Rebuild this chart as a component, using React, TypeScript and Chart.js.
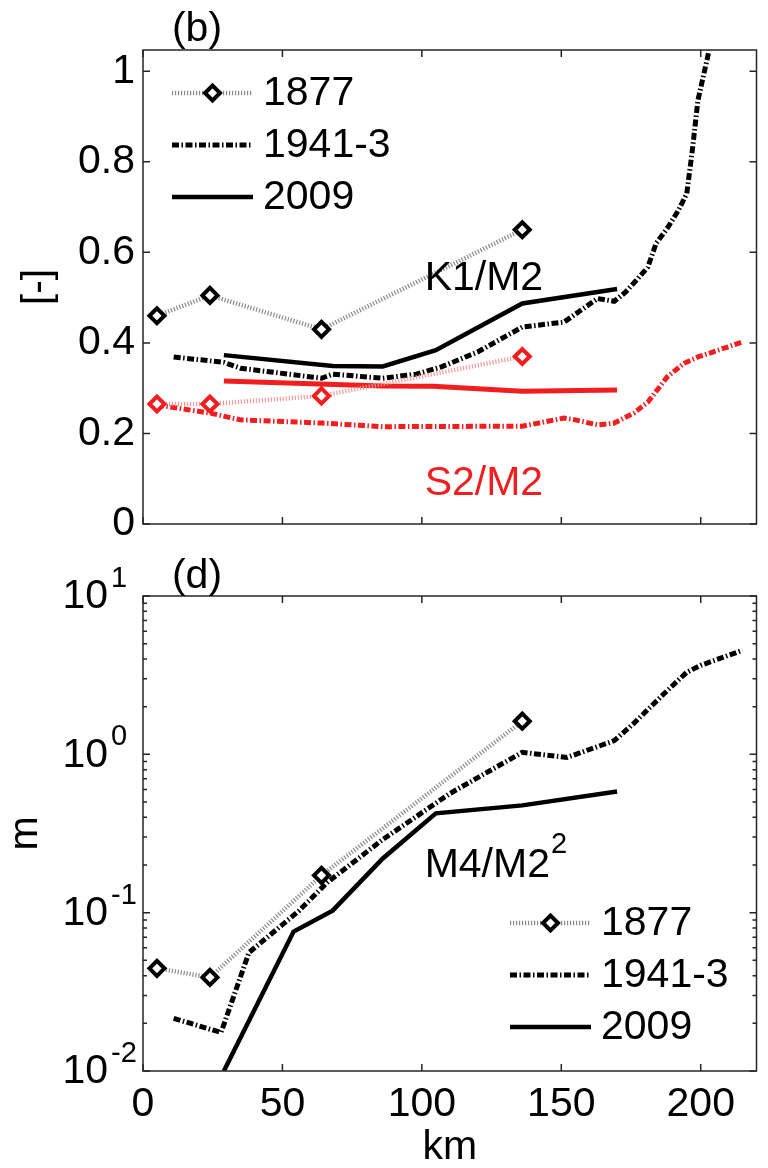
import { useEffect, useRef } from 'react';
import { Chart, registerables } from 'chart.js';

Chart.register(...registerables);

const FONT = '"Liberation Sans", Arial, Helvetica, sans-serif';
const FS = 41;
const BLACK = '#000000';
const RED = '#f01e1e';
const GREY_DOT = '#8a8a8a';
const RED_DOT = '#f49a9a';

// ---------------- shared x axis ----------------
const xTicks = [0, 50, 100, 150, 200];
const xLabels = ['0', '50', '100', '150', '200'];
const xTitle = 'km';

// ---------------- panel (b) ----------------
const panelB = '(b)';
const yTitleB = '[-]';
const yTicksB = [0, 0.2, 0.4, 0.6, 0.8, 1];
const yLabelsB = ['0', '0.2', '0.4', '0.6', '0.8', '1'];

// 1877 stations (diamonds)
const km1877 = [5, 24, 64, 136];
const k1m2_1877 = [0.46, 0.505, 0.43, 0.65];
const s2m2_1877 = [0.265, 0.265, 0.283, 0.37];

// 1941-3 K1/M2
const kmK1_1941 = [11, 29, 35, 64, 68, 86, 98, 107, 120, 136, 151, 157, 163, 169, 173, 177, 181, 184, 188, 192, 195, 197, 199, 203];
const k1m2_1941 = [0.369, 0.357, 0.344, 0.322, 0.331, 0.322, 0.331, 0.347, 0.38, 0.435, 0.446, 0.472, 0.498, 0.492, 0.512, 0.539, 0.567, 0.62, 0.653, 0.693, 0.73, 0.826, 0.936, 1.046];

// 1941-3 S2/M2
const kmS2_1941 = [5, 24, 35, 64, 86, 136, 151, 155, 163, 169, 176, 181, 188, 194, 199, 215];
const s2m2_1941 = [0.263, 0.245, 0.23, 0.223, 0.215, 0.216, 0.234, 0.23, 0.219, 0.223, 0.245, 0.269, 0.325, 0.355, 0.369, 0.402];

// 2009 K1/M2
const kmK1_2009 = [29, 68, 86, 105, 136, 170];
const k1m2_2009 = [0.373, 0.349, 0.348, 0.384, 0.487, 0.519];

// 2009 S2/M2
const kmS2_2009 = [29, 86, 104, 136, 170];
const s2m2_2009 = [0.316, 0.305, 0.304, 0.293, 0.296];

const labelK1 = 'K1/M2';
const labelS2 = 'S2/M2';

// ---------------- panel (d) ----------------
const panelD = '(d)';
const yTitleD = 'm';
const yTicksD = [0.01, 0.1, 1, 10];
const yExpD = ['-2', '-1', '0', '1'];
const yMinorMult = [2, 3, 4, 5, 6, 7, 8, 9];

const m4m2_1877 = [0.0445, 0.039, 0.172, 1.62];

const kmM4_1941 = [11, 28, 38, 56, 66, 86, 110, 136, 152, 169, 176, 187, 195, 200, 215];
const m4m2_1941 = [0.0215, 0.0175, 0.056, 0.103, 0.155, 0.29, 0.565, 1.03, 0.955, 1.22, 1.57, 2.43, 3.3, 3.65, 4.54];

const kmM4_2009 = [29, 54, 68, 86, 105, 136, 170];
const m4m2_2009 = [0.01, 0.076, 0.103, 0.22, 0.424, 0.476, 0.583];

const labelM4 = 'M4/M2';
const labelM4Exp = '2';

const legendLabels = ['1877', '1941-3', '2009'];

// ---------------- helpers ----------------
const pts = (xs: number[], ys: number[]) => xs.map((x, i) => ({ x, y: ys[i] }));

const style1877 = (line: string, mark: string) => ({
  borderColor: line,
  borderWidth: 4.5,
  borderDash: [1.2, 1.8],
  pointStyle: 'rectRot',
  pointRadius: 7.5,
  pointHoverRadius: 7.5,
  pointBorderWidth: 4,
  pointBorderColor: mark,
  pointBackgroundColor: '#ffffff',
});
const style1941 = (c: string) => ({
  borderColor: c,
  borderWidth: 5,
  borderDash: [7, 2.5, 1.5, 2.5],
  pointRadius: 0,
});
const style2009 = (c: string) => ({
  borderColor: c,
  borderWidth: 4.5,
  pointRadius: 0,
});

function drawDiamond(ctx: CanvasRenderingContext2D, x: number, y: number, r: number, color: string, w: number) {
  ctx.save();
  ctx.setLineDash([]);
  ctx.beginPath();
  ctx.moveTo(x - r, y);
  ctx.lineTo(x, y - r);
  ctx.lineTo(x + r, y);
  ctx.lineTo(x, y + r);
  ctx.closePath();
  ctx.fillStyle = '#ffffff';
  ctx.fill();
  ctx.lineWidth = w;
  ctx.strokeStyle = color;
  ctx.stroke();
  ctx.restore();
}

type Ann = { text: string; x: number; y: number; color: string; sup?: string };

function makePlugin(opts: {
  yMajor: number[];
  yMinor: number[];
  logLabels: boolean;
  panel: string;
  panelX: number;
  panelY: number;
  legend: { x0: number; x1: number; tx: number; rows: number[]; ds: number[] };
  anns: Ann[];
}) {
  return {
    id: 'matlabDecor',
    afterDatasetsDraw(chart: any) {
      const { ctx, chartArea: a, scales } = chart;
      const xs = scales.x;
      const ys = scales.y;
      ctx.save();
      // annotations in data coordinates
      for (const an of opts.anns) {
        const px = xs.getPixelForValue(an.x);
        const py = ys.getPixelForValue(an.y);
        ctx.font = `${FS}px ${FONT}`;
        ctx.fillStyle = an.color;
        ctx.textAlign = 'left';
        ctx.textBaseline = 'alphabetic';
        ctx.fillText(an.text, px, py);
        if (an.sup) {
          const w = ctx.measureText(an.text).width;
          ctx.font = `29px ${FONT}`;
          ctx.fillText(an.sup, px + w + 1, py - 24);
        }
      }
      // frame
      ctx.setLineDash([]);
      ctx.strokeStyle = '#262626';
      ctx.lineWidth = 1.5;
      ctx.strokeRect(a.left, a.top, a.right - a.left, a.bottom - a.top);
      ctx.beginPath();
      const L = 7;
      for (const v of xTicks) {
        const px = xs.getPixelForValue(v);
        ctx.moveTo(px, a.bottom);
        ctx.lineTo(px, a.bottom - L);
        ctx.moveTo(px, a.top);
        ctx.lineTo(px, a.top + L);
      }
      for (const v of opts.yMajor) {
        const py = ys.getPixelForValue(v);
        ctx.moveTo(a.left, py);
        ctx.lineTo(a.left + L, py);
        ctx.moveTo(a.right, py);
        ctx.lineTo(a.right - L, py);
      }
      for (const v of opts.yMinor) {
        const py = ys.getPixelForValue(v);
        ctx.moveTo(a.left, py);
        ctx.lineTo(a.left + 4, py);
        ctx.moveTo(a.right, py);
        ctx.lineTo(a.right - 4, py);
      }
      ctx.stroke();

      // log tick labels 10^n
      if (opts.logLabels) {
        ctx.fillStyle = BLACK;
        ctx.textBaseline = 'middle';
        yTicksD.forEach((v, i) => {
          const py = ys.getPixelForValue(v);
          ctx.font = `${FS}px ${FONT}`;
          ctx.textAlign = 'right';
          ctx.fillText('10', a.left - 35, py + 1);
          ctx.font = `29px ${FONT}`;
          ctx.textAlign = 'left';
          ctx.fillText(yExpD[i], a.left - 32, py - 17);
        });
      }

      // panel letter
      ctx.font = `${FS}px ${FONT}`;
      ctx.fillStyle = BLACK;
      ctx.textAlign = 'center';
      ctx.textBaseline = 'alphabetic';
      ctx.fillText(opts.panel, opts.panelX, opts.panelY);

      // legend
      const lg = opts.legend;
      lg.rows.forEach((ry, i) => {
        const ds = chart.data.datasets[lg.ds[i]];
        ctx.save();
        ctx.beginPath();
        ctx.setLineDash(ds.borderDash || []);
        ctx.lineWidth = ds.borderWidth;
        ctx.strokeStyle = ds.borderColor;
        ctx.moveTo(lg.x0, ry);
        ctx.lineTo(lg.x1, ry);
        ctx.stroke();
        ctx.restore();
        if (ds.pointRadius > 0) {
          drawDiamond(ctx, (lg.x0 + lg.x1) / 2, ry, ds.pointRadius, ds.pointBorderColor, ds.pointBorderWidth);
        }
        ctx.font = `${FS}px ${FONT}`;
        ctx.fillStyle = BLACK;
        ctx.textAlign = 'left';
        ctx.textBaseline = 'middle';
        ctx.fillText(legendLabels[i], lg.tx, ry + 1);
      });
      ctx.restore();
    },
  };
}

const xScale = (showLabels: boolean, height: number) => ({
  type: 'linear' as const,
  min: 0,
  max: 220,
  grid: { display: false, drawTicks: false },
  border: { display: false },
  afterBuildTicks: (s: any) => {
    s.ticks = xTicks.map((v) => ({ value: v }));
  },
  afterFit: (s: any) => {
    s.height = height;
  },
  ticks: {
    display: showLabels,
    padding: 13,
    color: BLACK,
    font: { size: FS, family: FONT, lineHeight: 1 },
    callback: (v: number) => xLabels[xTicks.indexOf(v)] ?? '',
  },
  title: {
    display: showLabels,
    text: xTitle,
    color: BLACK,
    font: { size: FS, family: FONT, lineHeight: 1 },
    padding: { top: 0, bottom: 0 },
  },
});

function configB(): any {
  return {
    type: 'line',
    data: {
      datasets: [
        { label: '1877 K1/M2', data: pts(km1877, k1m2_1877), ...style1877(GREY_DOT, BLACK) },
        { label: '1877 S2/M2', data: pts(km1877, s2m2_1877), ...style1877(RED_DOT, RED) },
        { label: '1941-3 K1/M2', data: pts(kmK1_1941, k1m2_1941), ...style1941(BLACK) },
        { label: '1941-3 S2/M2', data: pts(kmS2_1941, s2m2_1941), ...style1941(RED) },
        { label: '2009 K1/M2', data: pts(kmK1_2009, k1m2_2009), ...style2009(BLACK) },
        { label: '2009 S2/M2', data: pts(kmS2_2009, s2m2_2009), ...style2009(RED), borderWidth: 5 },
      ],
    },
    options: {
      responsive: false,
      animation: false,
      devicePixelRatio: 1,
      events: [],
      layout: { padding: { left: 0, right: 7, top: 50, bottom: 0 } },
      elements: { line: { tension: 0, fill: false } },
      plugins: { legend: { display: false }, tooltip: { enabled: false } },
      scales: {
        x: xScale(false, 36),
        y: {
          type: 'linear',
          min: 0,
          max: 1.047,
          grid: { display: false, drawTicks: false },
          border: { display: false },
          afterBuildTicks: (s: any) => {
            s.ticks = yTicksB.map((v) => ({ value: v }));
          },
          afterFit: (s: any) => {
            s.width = 143;
          },
          ticks: {
            padding: 8,
            color: BLACK,
            font: { size: FS, family: FONT, lineHeight: 1 },
            callback: (v: number) => yLabelsB[yTicksB.indexOf(v)] ?? '',
          },
          title: {
            display: true,
            text: yTitleB,
            color: BLACK,
            font: { size: FS, family: FONT, lineHeight: 1 },
            padding: { top: 18, bottom: 0 },
          },
        },
      },
    },
    plugins: [
      makePlugin({
        yMajor: yTicksB,
        yMinor: [],
        logLabels: false,
        panel: panelB,
        panelX: 197,
        panelY: 41,
        legend: { x0: 172, x1: 253, tx: 263, rows: [93, 145, 197], ds: [0, 2, 4] },
        anns: [
          { text: labelK1, x: 101, y: 0.517, color: BLACK },
          { text: labelS2, x: 101, y: 0.064, color: RED },
        ],
      }),
    ],
  };
}

function configD(): any {
  const minors: number[] = [];
  for (const d of yTicksD.slice(0, 3)) for (const m of yMinorMult) minors.push(m * d);
  return {
    type: 'line',
    data: {
      datasets: [
        { label: '1877', data: pts(km1877, m4m2_1877), ...style1877(GREY_DOT, BLACK) },
        { label: '1941-3', data: pts(kmM4_1941, m4m2_1941), ...style1941(BLACK) },
        { label: '2009', data: pts(kmM4_2009, m4m2_2009), ...style2009(BLACK) },
      ],
    },
    options: {
      responsive: false,
      animation: false,
      devicePixelRatio: 1,
      events: [],
      layout: { padding: { left: 0, right: 7, top: 56, bottom: 0 } },
      elements: { line: { tension: 0, fill: false } },
      plugins: { legend: { display: false }, tooltip: { enabled: false } },
      scales: {
        x: xScale(true, 97),
        y: {
          type: 'logarithmic',
          min: 0.01,
          max: 10,
          grid: { display: false, drawTicks: false },
          border: { display: false },
          afterBuildTicks: (s: any) => {
            s.ticks = yTicksD.map((v) => ({ value: v }));
          },
          afterFit: (s: any) => {
            s.width = 143;
          },
          ticks: { display: false },
          title: {
            display: true,
            text: yTitleD,
            color: BLACK,
            font: { size: FS, family: FONT, lineHeight: 1 },
            padding: { top: 5.5, bottom: 0 },
          },
        },
      },
    },
    plugins: [
      makePlugin({
        yMajor: yTicksD,
        yMinor: minors,
        logLabels: true,
        panel: panelD,
        panelX: 197,
        panelY: 48,
        legend: { x0: 510, x1: 591, tx: 601, rows: [383, 435, 487], ds: [0, 1, 2] },
        anns: [{ text: labelM4, x: 101, y: 0.167, color: BLACK, sup: labelM4Exp }],
      }),
    ],
  };
}

export default function App() {
  const refB = useRef<HTMLCanvasElement>(null);
  const refD = useRef<HTMLCanvasElement>(null);

  useEffect(() => {
    Chart.defaults.font.family = FONT;
    const cB = new Chart(refB.current as HTMLCanvasElement, configB());
    const cD = new Chart(refD.current as HTMLCanvasElement, configD());
    return () => {
      cB.destroy();
      cD.destroy();
    };
  }, []);

  return (
    <div style={{ position: 'absolute', left: 0, top: 0, width: 768, height: 1168, background: '#ffffff', overflow: 'hidden' }}>
      <canvas ref={refB} width={768} height={560} style={{ position: 'absolute', left: 0, top: 0, width: 768, height: 560 }} />
      <canvas ref={refD} width={768} height={628} style={{ position: 'absolute', left: 0, top: 540, width: 768, height: 628 }} />
    </div>
  );
}
